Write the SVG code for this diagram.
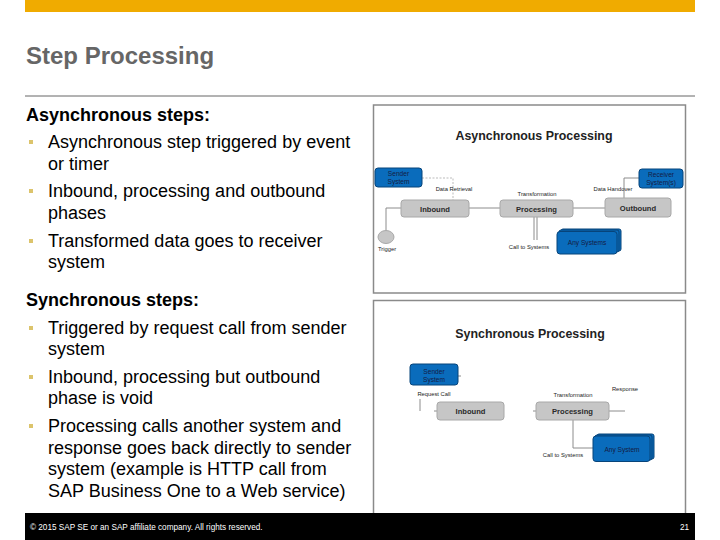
<svg xmlns="http://www.w3.org/2000/svg" width="720" height="540" viewBox="0 0 720 540">
<style>
.body{font-family:"Liberation Sans",Arial,sans-serif;font-size:18px;fill:#000}
.head{font-family:"Liberation Sans",Arial,sans-serif;font-size:18px;font-weight:bold;fill:#000}
.bul{fill:#dcc46c}
.frame{fill:#fff;stroke:#8a8a8a;stroke-width:1.5}
.dtitle{font-family:"Liberation Sans",Arial,sans-serif;font-size:12.4px;font-weight:bold;fill:#222;text-anchor:middle}
.gbox{fill:#c6c6c6;stroke:#a8a8a8;stroke-width:1}
.bbox{fill:#0a6cbc;stroke:#07447a;stroke-width:1}
.gtxt{font-family:"Liberation Sans",Arial,sans-serif;font-size:7.6px;font-weight:bold;fill:#2a2a2a;text-anchor:middle}
.btxt{font-family:"Liberation Sans",Arial,sans-serif;font-size:6.6px;fill:#141c45;text-anchor:middle}
.lbl{font-family:"Liberation Sans",Arial,sans-serif;font-size:5.8px;fill:#222;text-anchor:middle}
.ln{fill:none;stroke:#8c8c8c;stroke-width:1}
.dash{fill:none;stroke:#aaaaaa;stroke-width:0.8;stroke-dasharray:2 1.5}
</style>
<rect x="25" y="0" width="670" height="12" fill="#f0ab00"/>
<text x="26" y="64" font-family="Liberation Sans, Arial, sans-serif" font-size="24" font-weight="bold" fill="#666">Step Processing</text>
<line x1="25" y1="96" x2="695" y2="96" stroke="#666" stroke-width="1"/>

<g id="text-async">
<text class="head" x="26" y="121">Asynchronous steps:</text>
<rect class="bul" x="29" y="140" width="4" height="4"/>
<text class="body" x="48" y="148">Asynchronous step triggered by event</text>
<text class="body" x="48" y="170">or timer</text>
<rect class="bul" x="29" y="189" width="4" height="4"/>
<text class="body" x="48" y="197">Inbound, processing and outbound</text>
<text class="body" x="48" y="219">phases</text>
<rect class="bul" x="29" y="239" width="4" height="4"/>
<text class="body" x="48" y="247">Transformed data goes to receiver</text>
<text class="body" x="48" y="268">system</text>
</g>
<g id="text-sync">
<text class="head" x="26" y="306">Synchronous steps:</text>
<rect class="bul" x="29" y="326" width="4" height="4"/>
<text class="body" x="48" y="334">Triggered by request call from sender</text>
<text class="body" x="48" y="355">system</text>
<rect class="bul" x="29" y="375" width="4" height="4"/>
<text class="body" x="48" y="383">Inbound, processing but outbound</text>
<text class="body" x="48" y="404">phase is void</text>
<rect class="bul" x="29" y="424" width="4" height="4"/>
<text class="body" x="48" y="432">Processing calls another system and</text>
<text class="body" x="48" y="454">response goes back directly to sender</text>
<text class="body" x="48" y="475">system (example is HTTP call from</text>
<text class="body" x="48" y="497">SAP Business One to a Web service)</text>
</g>

<!-- Diagram 1 -->
<rect class="frame" x="373.5" y="105" width="312" height="188"/>
<text class="dtitle" x="534" y="140">Asynchronous Processing</text>
<g id="a-connectors">
<path class="dash" d="M422 178 H453 V200"/>
<path class="ln" d="M469 208 H500"/>
<path class="ln" d="M573 208 H605"/>
<path class="ln" d="M624 198 V178 H639"/>
<path class="ln" d="M386 230 V208 H401"/>
<path class="ln" d="M534 217 V240 M537 217 V240"/>
</g>
<g id="a-sender"><rect class="bbox" x="375" y="168" width="47" height="19" rx="3"/><text class="btxt" x="398.5" y="176">Sender</text><text class="btxt" x="398.5" y="184">System</text></g>
<text class="lbl" x="454" y="191">Data Retrieval</text>
<g id="a-inbound"><rect class="gbox" x="401" y="200" width="68" height="17" rx="3"/><text class="gtxt" x="435" y="211.5">Inbound</text></g>
<text class="lbl" x="537" y="196">Transformation</text>
<g id="a-processing"><rect class="gbox" x="500" y="200" width="73" height="17" rx="3"/><text class="gtxt" x="536.5" y="211.5">Processing</text></g>
<text class="lbl" x="613" y="191">Data Handover</text>
<g id="a-outbound"><rect class="gbox" x="605" y="198" width="66" height="19" rx="3"/><text class="gtxt" x="638" y="210.5">Outbound</text></g>
<g id="a-receiver"><rect class="bbox" x="639" y="169" width="44" height="19" rx="3"/><text class="btxt" x="661" y="177" font-size="5.6">Receiver</text><text class="btxt" x="661" y="184.5" font-size="5.6">System(s)</text></g>
<g id="a-trigger"><ellipse cx="386" cy="237" rx="8" ry="6.5" fill="#c6c6c6" stroke="#a8a8a8"/><text class="lbl" x="387" y="251">Trigger</text></g>
<text class="lbl" x="529" y="249">Call to Systems</text>
<g id="a-any"><rect class="bbox" x="561" y="229" width="60" height="22" rx="2"/><rect class="bbox" x="559" y="230" width="60" height="22" rx="2"/><rect class="bbox" x="557" y="231.5" width="60" height="22.5" rx="3"/><text class="btxt" x="587" y="245">Any Systems</text></g>

<!-- Diagram 2 -->
<rect class="frame" x="373.5" y="300.5" width="312" height="220"/>
<text class="dtitle" x="530" y="338">Synchronous Processing</text>
<g id="s-connectors">
<path class="ln" d="M458 376 H461"/>
<path class="ln" d="M420 399 V411"/>
<path class="ln" d="M434 411 H437"/>
<path class="ln" d="M533 411 H536"/>
<path class="ln" d="M609 411 H625"/>
<path class="ln" d="M573 420 V448 H593"/>
</g>
<g id="s-sender"><rect class="bbox" x="410" y="364" width="48" height="21" rx="3"/><text class="btxt" x="434" y="373.5" font-size="7">Sender</text><text class="btxt" x="434" y="381.5" font-size="7">System</text></g>
<text class="lbl" x="434" y="396">Request Call</text>
<g id="s-inbound"><rect class="gbox" x="437" y="402" width="67" height="18" rx="3"/><text class="gtxt" x="470.5" y="414">Inbound</text></g>
<text class="lbl" x="573" y="397">Transformation</text>
<text class="lbl" x="625" y="391">Response</text>
<g id="s-processing"><rect class="gbox" x="536" y="402" width="73" height="18" rx="3"/><text class="gtxt" x="572.5" y="414">Processing</text></g>
<text class="lbl" x="563" y="457">Call to Systems</text>
<g id="s-any"><rect class="bbox" x="597" y="434" width="57" height="25" rx="2"/><rect class="bbox" x="595" y="435" width="57" height="25" rx="2"/><rect class="bbox" x="593" y="436" width="57" height="25.5" rx="3"/><text class="btxt" x="622" y="452" font-size="7.5">Any System</text></g>

<rect x="25" y="513" width="670" height="27" fill="#000"/>
<text x="30" y="530" font-family="Liberation Sans, Arial, sans-serif" font-size="8.2" fill="#fff">© 2015 SAP SE or an SAP affiliate company. All rights reserved.</text>
<text x="689" y="530" font-family="Liberation Sans, Arial, sans-serif" font-size="8.2" fill="#fff" text-anchor="end">21</text>
</svg>
